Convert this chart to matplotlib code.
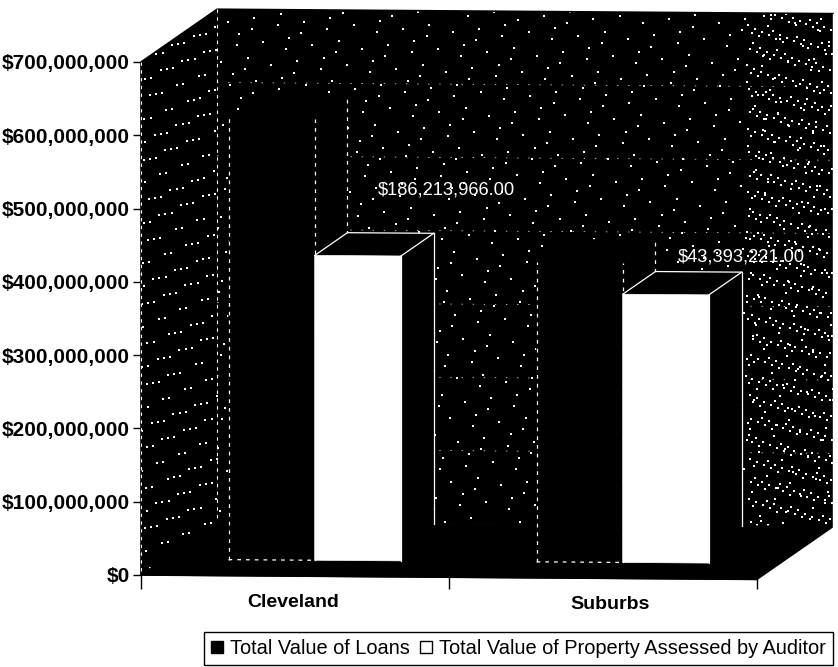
import matplotlib

matplotlib.use("Agg")
import matplotlib.pyplot as plt
import numpy as np
from matplotlib.patches import Patch, Polygon

plt.rcParams["font.family"] = ["Liberation Sans", "DejaVu Sans"]

categories = ["Cleveland", "Suburbs"]
loans = [602000000, 409000000]
assessed = [416000000, 366000000]
value_labels = ["$186,213,966.00", "$43,393,221.00"]
y_ticks = [0, 100000000, 200000000, 300000000, 400000000, 500000000, 600000000, 700000000]
series_names = ["Total Value of Loans", "Total Value of Property Assessed by Auditor"]

W, H = 838, 667
DEPTH_X = 0.247  # oblique offset of the back wall, x units
DEPTH_Y = 72000000  # same, in dollars
TILT = 3000000  # the scan leans a bit, dollars per x unit
Y_MAX = 700000000


def project(x, y, depth=0.0):
    return (x + depth * DEPTH_X, y + depth * DEPTH_Y - TILT * x)


def face(ax, corners, **kw):
    pts = [project(*c) for c in corners]
    kw.setdefault("clip_on", False)
    ax.add_patch(Polygon(pts, closed=True, **kw))


def draw_bar(ax, x0, width, value, front, line_dash, z):
    d0, d1 = 0.30, 0.73
    x1 = x0 + width
    # black faces first, the white fragments of the outline go on top
    plain = dict(facecolor="black", edgecolor="black", linewidth=0.5, zorder=z)
    face(ax, [(x1, 0, d0), (x1, 0, d1), (x1, value, d1), (x1, value, d0)], **plain)
    face(ax, [(x0, value, d0), (x0, value, d1), (x1, value, d1), (x1, value, d0)], **plain)
    face(ax, [(x0, 0, d0), (x1, 0, d0), (x1, value, d0), (x0, value, d0)],
         facecolor=front, edgecolor=front, linewidth=0.5, zorder=z)

    back_base = (1 - d1) * DEPTH_Y
    segs = [
        [(x1, back_base, d1), (x1, value, d1)],
        [(x0, 0, d0), (x0, value, d0)],
        [(x1, 0, d0), (x1, value, d0)],
    ]
    if front == "white":
        segs.append([(x1, value, d0), (x1, value, d1)])
        segs.append([(x0, value, d1), (x1, value, d1)])
        segs.append([(x0, value, d0), (x0, value, d1)])
    else:
        segs.append([(x0, 0, d0), (x1, 0, d0)])
    for a, b in segs:
        xs, ys = zip(project(*a), project(*b))
        ax.plot(xs, ys, color="white", lw=0.9, ls=line_dash, zorder=z + 0.1, clip_on=False)


def speckle(ax, n, x0, x1, d0, d1):
    # scanner dust on the walls, an even quasi-random spread
    idx = np.arange(1, n + 1)
    u = (idx * 0.7548776662) % 1
    v = (idx * 0.5698402910) % 1
    depth = d0 + (d1 - d0) * u
    x = x0 + (x1 - x0) * u
    px, py = project(x, v * Y_MAX, depth)
    ax.scatter(px, py, s=1.0, c="white", marker="s", linewidths=0, zorder=1.5, clip_on=False)


fig = plt.figure(figsize=(W / 100, H / 100), dpi=100, facecolor="white")
ax = fig.add_axes([141 / W, 1 - 575 / H, 616 / W, 513 / H])
ax.set_xlim(0, 2)
ax.set_ylim(0, Y_MAX)
ax.patch.set_alpha(0)
for side in ["top", "right", "left", "bottom"]:
    ax.spines[side].set_visible(False)

# walls and floor
wall = dict(facecolor="black", edgecolor="black", linewidth=0, zorder=1)
face(ax, [(0, 0, 1), (2, 0, 1), (2, Y_MAX, 1), (0, Y_MAX, 1)], **wall)
face(ax, [(0, 0, 0), (0, 0, 1), (0, Y_MAX, 1), (0, Y_MAX, 0)], **wall)

# denser at both ends of the chart, thin in the middle
speckle(ax, 1000, 0, 2, 1, 1)
speckle(ax, 520, 1.72, 2, 1, 1)
speckle(ax, 230, 0, 0, 0, 1)

face(ax, [(0, 0, 0), (2, 0, 0), (2, 0, 1), (0, 0, 1)], facecolor="black", edgecolor="black", zorder=2)

# gridlines on the back wall
for t in y_ticks[1:]:
    xs, ys = zip(project(0, t, 1), project(2, t, 1))
    ax.plot(xs, ys, color="white", lw=0.5, ls=(0, (2, 14)), zorder=2, clip_on=False)

# wall outlines
xs, ys = zip(project(0, 0, 0), project(0, Y_MAX, 0), project(0, Y_MAX, 1), project(2, Y_MAX, 1))
ax.plot(xs, ys, color="black", lw=1.2, zorder=3, clip_on=False)
xs, ys = zip(project(2, Y_MAX, 1), project(2, 0, 1))
ax.plot(xs, ys, color="white", lw=1.0, zorder=3, clip_on=False)
xs, ys = zip(project(0, Y_MAX, 1), project(0, 0, 1))
ax.plot(xs, ys, color="white", lw=0.8, ls=(0, (3, 4)), zorder=3, clip_on=False)
xs, ys = zip(project(0, Y_MAX, 0), project(0, 0, 0))
ax.plot(xs, ys, color="white", lw=0.8, ls=(0, (3, 4)), zorder=3, clip_on=False)

# bars
width = 0.28
for i in range(len(categories)):
    center = i + 0.49
    draw_bar(ax, center - width, width, loans[i], "black", (0, (3, 4)), 4 + i)
    draw_bar(ax, center, width, assessed[i], "white", "solid", 4.5 + i)

# value labels
label_pos = [(0.99, 525000000), (1.95, 434000000)]
for (lx, ly), text in zip(label_pos, value_labels):
    ax.text(lx, ly, text, color="white", fontsize=13.2, ha="center", va="center", zorder=8, clip_on=False)

# axes
ax.set_yticks(y_ticks)
ax.set_yticklabels([f"${t:,.0f}" for t in y_ticks], fontsize=15, fontweight="bold")
ax.set_xticks([0, 1, 2])
ax.set_xticklabels([])
ax.tick_params(axis="y", length=6, width=1.0, pad=2)
ax.tick_params(axis="x", length=10, width=1.0)
xs, ys = zip(project(0, 0), project(2, 0))
ax.plot(xs, ys, color="black", lw=1.2, zorder=3, clip_on=False)

for i, name in enumerate(categories):
    x, y = project(i + 0.5, 0)
    ax.annotate(name, (x, y), xytext=(-1 if i == 0 else 5, -13), textcoords="offset points",
                ha="center", va="top", fontsize=14, fontweight="bold", annotation_clip=False)

handles = [
    Patch(facecolor="black", edgecolor="black", label=series_names[0]),
    Patch(facecolor="white", edgecolor="black", label=series_names[1]),
]
fig.legend(
    handles=handles,
    ncol=2,
    loc="lower right",
    bbox_to_anchor=(833 / W, 1 - 665 / H),
    fontsize=14.4,
    frameon=True,
    fancybox=False,
    edgecolor="black",
    framealpha=1,
    borderpad=0.35,
    handlelength=0.6,
    handleheight=0.6,
    handletextpad=0.35,
    columnspacing=0.5,
    borderaxespad=0,
)

fig.savefig("out.png", dpi=100)
